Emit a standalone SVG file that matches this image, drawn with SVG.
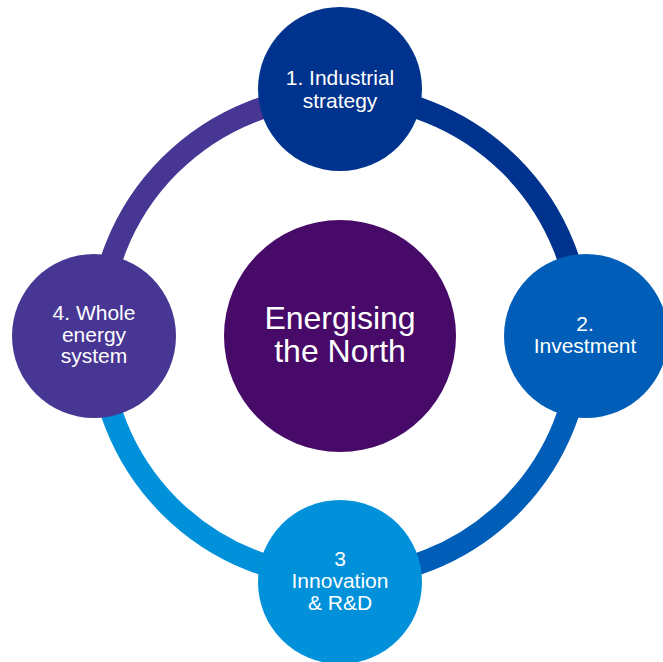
<svg xmlns="http://www.w3.org/2000/svg" width="663" height="662" viewBox="0 0 663 662">
<style>
.arc{fill:none;stroke-width:22}
.lbl{font-family:"Liberation Sans",Arial,sans-serif;font-size:21px;fill:#ffffff;text-anchor:middle}
.big{font-family:"Liberation Sans",Arial,sans-serif;font-size:32px;fill:#ffffff;text-anchor:middle}
</style>
<rect width="663" height="662" fill="#ffffff"/>
<g id="connectors">
<path class="arc" stroke="#00338D" d="M340,95 A241,241 0 0 1 581,336"/>
<path class="arc" stroke="#005EB8" d="M581,336 A241,241 0 0 1 340,577"/>
<path class="arc" stroke="#0091DA" d="M340,577 A241,241 0 0 1 99,336"/>
<path class="arc" stroke="#483694" d="M99,336 A241,241 0 0 1 340,95"/>
</g>
<g id="center">
<circle cx="340" cy="336" r="116" fill="#470A68"/>
<text class="big" x="340" y="329">Energising</text>
<text class="big" x="340" y="362">the North</text>
</g>
<g id="node1">
<circle cx="340" cy="89" r="82" fill="#00338D"/>
<text class="lbl" x="340" y="85">1. Industrial</text>
<text class="lbl" x="340" y="107.5">strategy</text>
</g>
<g id="node2">
<circle cx="586" cy="336" r="82" fill="#005EB8"/>
<text class="lbl" x="585" y="331">2.</text>
<text class="lbl" x="585" y="353">Investment</text>
</g>
<g id="node3">
<circle cx="340" cy="582" r="82" fill="#0091DA"/>
<text class="lbl" x="340" y="566">3</text>
<text class="lbl" x="340" y="587.5">Innovation</text>
<text class="lbl" x="340" y="609.5">&amp; R&amp;D</text>
</g>
<g id="node4">
<circle cx="94" cy="336" r="82" fill="#483694"/>
<text class="lbl" x="94" y="320">4. Whole</text>
<text class="lbl" x="94" y="341.5">energy</text>
<text class="lbl" x="94" y="363">system</text>
</g>
</svg>
